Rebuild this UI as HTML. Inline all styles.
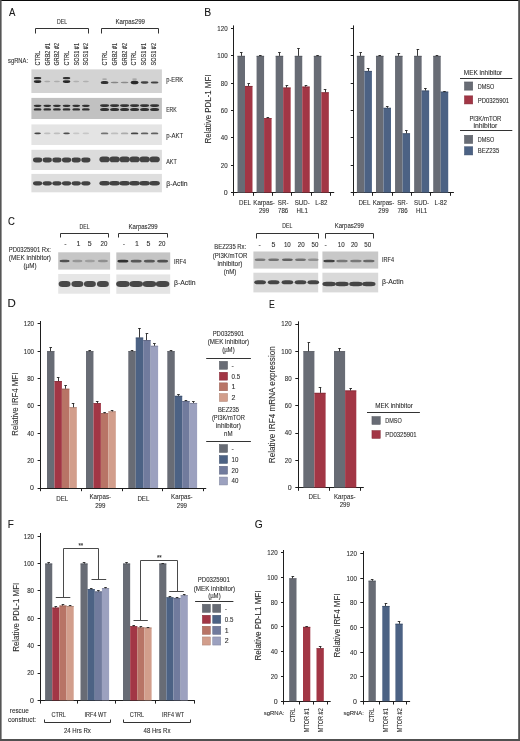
<!DOCTYPE html>
<html><head><meta charset="utf-8"><title>Figure</title>
<style>
html,body{margin:0;padding:0;background:#fff;}
svg{display:block;will-change:transform;}
text{font-family:"Liberation Sans", sans-serif;stroke:#2e2e2e;stroke-width:0.1px;}
</style></head>
<body>
<svg width="520" height="741" viewBox="0 0 520 741" font-family='"Liberation Sans", sans-serif' fill="#2e2e2e">
<defs><filter id="bl" x="-30%" y="-60%" width="160%" height="220%"><feGaussianBlur stdDeviation="0.65"/></filter></defs>
<rect x="0" y="0" width="520" height="741" fill="#fff"/>
<text x="9.11" y="16.15" font-size="11.3" textLength="6.38" lengthAdjust="spacingAndGlyphs" fill="#111" style="stroke-width:0.1px">A</text>
<text x="204.28" y="16.15" font-size="11.3" textLength="6.93" lengthAdjust="spacingAndGlyphs" fill="#111" style="stroke-width:0.1px">B</text>
<text x="7.98" y="225.4" font-size="11.3" textLength="6.84" lengthAdjust="spacingAndGlyphs" fill="#111" style="stroke-width:0.1px">C</text>
<text x="7.49" y="307.35" font-size="11.3" textLength="8.3" lengthAdjust="spacingAndGlyphs" fill="#111" style="stroke-width:0.1px">D</text>
<text x="269.03" y="307.55" font-size="11.3" textLength="5.79" lengthAdjust="spacingAndGlyphs" fill="#111" style="stroke-width:0.1px">E</text>
<text x="7.63" y="527.75" font-size="11.3" textLength="6.01" lengthAdjust="spacingAndGlyphs" fill="#111" style="stroke-width:0.1px">F</text>
<text x="254.74" y="527.9" font-size="11.3" textLength="7.97" lengthAdjust="spacingAndGlyphs" fill="#111" style="stroke-width:0.1px">G</text>
<text x="62" y="23.8" font-size="7" text-anchor="middle" textLength="10" lengthAdjust="spacingAndGlyphs">DEL</text>
<text x="130.2" y="23.8" font-size="7" text-anchor="middle" textLength="29.5" lengthAdjust="spacingAndGlyphs">Karpas299</text>
<path d="M 35.5 33.5 V 28.5 H 88.5 V 33.5" stroke="#333" stroke-width="1" fill="none"/>
<path d="M 101.5 33.5 V 28.5 H 158.5 V 33.5" stroke="#333" stroke-width="1" fill="none"/>
<text x="8" y="63" font-size="7" textLength="20" lengthAdjust="spacingAndGlyphs">sgRNA:</text>
<text x="40" y="65.5" font-size="6.8" textLength="14.5" lengthAdjust="spacingAndGlyphs" transform="rotate(-90 40 65.5)" style="stroke-width:0.12px">CTRL</text>
<text x="49.65" y="65.5" font-size="6.8" textLength="22.5" lengthAdjust="spacingAndGlyphs" transform="rotate(-90 49.65 65.5)" style="stroke-width:0.12px">GRB2 #1</text>
<text x="59.3" y="65.5" font-size="6.8" textLength="22.5" lengthAdjust="spacingAndGlyphs" transform="rotate(-90 59.3 65.5)" style="stroke-width:0.12px">GRB2 #2</text>
<text x="68.95" y="65.5" font-size="6.8" textLength="14.5" lengthAdjust="spacingAndGlyphs" transform="rotate(-90 68.95 65.5)" style="stroke-width:0.12px">CTRL</text>
<text x="78.6" y="65.5" font-size="6.8" textLength="22.5" lengthAdjust="spacingAndGlyphs" transform="rotate(-90 78.6 65.5)" style="stroke-width:0.12px">SOS1 #1</text>
<text x="88.25" y="65.5" font-size="6.8" textLength="22.5" lengthAdjust="spacingAndGlyphs" transform="rotate(-90 88.25 65.5)" style="stroke-width:0.12px">SOS1 #2</text>
<text x="107.3" y="65.5" font-size="6.8" textLength="14.5" lengthAdjust="spacingAndGlyphs" transform="rotate(-90 107.3 65.5)" style="stroke-width:0.12px">CTRL</text>
<text x="117" y="65.5" font-size="6.8" textLength="22.5" lengthAdjust="spacingAndGlyphs" transform="rotate(-90 117 65.5)" style="stroke-width:0.12px">GRB2 #1</text>
<text x="126.7" y="65.5" font-size="6.8" textLength="22.5" lengthAdjust="spacingAndGlyphs" transform="rotate(-90 126.7 65.5)" style="stroke-width:0.12px">GRB2 #2</text>
<text x="136.4" y="65.5" font-size="6.8" textLength="14.5" lengthAdjust="spacingAndGlyphs" transform="rotate(-90 136.4 65.5)" style="stroke-width:0.12px">CTRL</text>
<text x="146.1" y="65.5" font-size="6.8" textLength="22.5" lengthAdjust="spacingAndGlyphs" transform="rotate(-90 146.1 65.5)" style="stroke-width:0.12px">SOS1 #1</text>
<text x="155.8" y="65.5" font-size="6.8" textLength="22.5" lengthAdjust="spacingAndGlyphs" transform="rotate(-90 155.8 65.5)" style="stroke-width:0.12px">SOS1 #2</text>
<rect x="31.4" y="69.4" width="130.5" height="23.6" fill="#d3d3d3"/>
<rect x="31.4" y="97.9" width="130.5" height="21.1" fill="#c1c1c1"/>
<rect x="31.4" y="124.4" width="130.5" height="20.6" fill="#e4e4e4"/>
<rect x="31.4" y="149.8" width="130.5" height="20.2" fill="#dcdcdc"/>
<rect x="31.4" y="173.9" width="130.5" height="18.4" fill="#dedede"/>
<text x="166.2" y="82.1" font-size="7" textLength="17" lengthAdjust="spacingAndGlyphs">p-ERK</text>
<text x="166.2" y="112" font-size="7" textLength="10.5" lengthAdjust="spacingAndGlyphs">ERK</text>
<text x="166.2" y="138" font-size="7" textLength="17" lengthAdjust="spacingAndGlyphs">p-AKT</text>
<text x="166.2" y="163.7" font-size="7" textLength="10.5" lengthAdjust="spacingAndGlyphs">AKT</text>
<text x="166.2" y="185.6" font-size="7" textLength="21.5" lengthAdjust="spacingAndGlyphs">β-Actin</text>
<rect x="33.8" y="76.9" width="7.6" height="2.4" rx="2.43" ry="1.2" fill="#2b2b2b" filter="url(#bl)" opacity="0.95"/>
<rect x="33.8" y="80.3" width="7.6" height="2.6" rx="2.43" ry="1.3" fill="#2b2b2b" filter="url(#bl)"/>
<rect x="44.25" y="80.8" width="6" height="1.4" rx="1.92" ry="0.7" fill="#2b2b2b" filter="url(#bl)" opacity="0.25"/>
<rect x="53.9" y="80.8" width="6" height="1.4" rx="1.92" ry="0.7" fill="#2b2b2b" filter="url(#bl)" opacity="0.22"/>
<rect x="62.75" y="76.9" width="7.6" height="2.4" rx="2.43" ry="1.2" fill="#2b2b2b" filter="url(#bl)" opacity="0.95"/>
<rect x="62.75" y="80.3" width="7.6" height="2.6" rx="2.43" ry="1.3" fill="#2b2b2b" filter="url(#bl)"/>
<rect x="73.2" y="80.8" width="6" height="1.4" rx="1.92" ry="0.7" fill="#2b2b2b" filter="url(#bl)" opacity="0.2"/>
<rect x="82.85" y="80.8" width="6" height="1.4" rx="1.92" ry="0.7" fill="#2b2b2b" filter="url(#bl)" opacity="0.2"/>
<rect x="100.7" y="81" width="7.8" height="3" rx="2.5" ry="1.5" fill="#2b2b2b" filter="url(#bl)" opacity="0.95"/>
<rect x="102.1" y="78.5" width="5" height="1.2" rx="1.6" ry="0.6" fill="#2b2b2b" filter="url(#bl)" opacity="0.35"/>
<rect x="110.7" y="81.8" width="7.8" height="1.4" rx="2.5" ry="0.7" fill="#2b2b2b" filter="url(#bl)" opacity="0.45"/>
<rect x="120.7" y="81.8" width="7.8" height="1.4" rx="2.5" ry="0.7" fill="#2b2b2b" filter="url(#bl)" opacity="0.42"/>
<rect x="130.7" y="80.8" width="7.8" height="3.4" rx="2.5" ry="1.7" fill="#2b2b2b" filter="url(#bl)"/>
<rect x="132.1" y="78.5" width="5" height="1.2" rx="1.6" ry="0.6" fill="#2b2b2b" filter="url(#bl)" opacity="0.35"/>
<rect x="140.7" y="81.35" width="7.8" height="2.3" rx="2.5" ry="1.15" fill="#2b2b2b" filter="url(#bl)" opacity="0.85"/>
<rect x="150.7" y="81.4" width="7.8" height="2.2" rx="2.5" ry="1.1" fill="#2b2b2b" filter="url(#bl)" opacity="0.85"/>
<rect x="33.7" y="104.65" width="7.8" height="2.3" rx="2.5" ry="1.15" fill="#2b2b2b" filter="url(#bl)" opacity="0.95"/>
<rect x="33.7" y="108.2" width="7.8" height="2.4" rx="2.5" ry="1.2" fill="#2b2b2b" filter="url(#bl)" opacity="0.95"/>
<rect x="43.35" y="104.65" width="7.8" height="2.3" rx="2.5" ry="1.15" fill="#2b2b2b" filter="url(#bl)" opacity="0.95"/>
<rect x="43.35" y="108.2" width="7.8" height="2.4" rx="2.5" ry="1.2" fill="#2b2b2b" filter="url(#bl)" opacity="0.95"/>
<rect x="53" y="104.65" width="7.8" height="2.3" rx="2.5" ry="1.15" fill="#2b2b2b" filter="url(#bl)" opacity="0.95"/>
<rect x="53" y="108.2" width="7.8" height="2.4" rx="2.5" ry="1.2" fill="#2b2b2b" filter="url(#bl)" opacity="0.95"/>
<rect x="62.65" y="104.65" width="7.8" height="2.3" rx="2.5" ry="1.15" fill="#2b2b2b" filter="url(#bl)" opacity="0.95"/>
<rect x="62.65" y="108.2" width="7.8" height="2.4" rx="2.5" ry="1.2" fill="#2b2b2b" filter="url(#bl)" opacity="0.95"/>
<rect x="72.3" y="104.65" width="7.8" height="2.3" rx="2.5" ry="1.15" fill="#2b2b2b" filter="url(#bl)" opacity="0.95"/>
<rect x="72.3" y="108.2" width="7.8" height="2.4" rx="2.5" ry="1.2" fill="#2b2b2b" filter="url(#bl)" opacity="0.95"/>
<rect x="81.95" y="104.65" width="7.8" height="2.3" rx="2.5" ry="1.15" fill="#2b2b2b" filter="url(#bl)" opacity="0.95"/>
<rect x="81.95" y="108.2" width="7.8" height="2.4" rx="2.5" ry="1.2" fill="#2b2b2b" filter="url(#bl)" opacity="0.95"/>
<rect x="100" y="104.2" width="9.2" height="2.8" rx="2.94" ry="1.4" fill="#2b2b2b" filter="url(#bl)" opacity="0.95"/>
<rect x="100" y="108.1" width="9.2" height="3" rx="2.94" ry="1.5" fill="#2b2b2b" filter="url(#bl)" opacity="0.95"/>
<rect x="110" y="104.2" width="9.2" height="2.8" rx="2.94" ry="1.4" fill="#2b2b2b" filter="url(#bl)" opacity="0.95"/>
<rect x="110" y="108.1" width="9.2" height="3" rx="2.94" ry="1.5" fill="#2b2b2b" filter="url(#bl)" opacity="0.95"/>
<rect x="120" y="104.2" width="9.2" height="2.8" rx="2.94" ry="1.4" fill="#2b2b2b" filter="url(#bl)" opacity="0.95"/>
<rect x="120" y="108.1" width="9.2" height="3" rx="2.94" ry="1.5" fill="#2b2b2b" filter="url(#bl)" opacity="0.95"/>
<rect x="130" y="104.2" width="9.2" height="2.8" rx="2.94" ry="1.4" fill="#2b2b2b" filter="url(#bl)" opacity="0.95"/>
<rect x="130" y="108.1" width="9.2" height="3" rx="2.94" ry="1.5" fill="#2b2b2b" filter="url(#bl)" opacity="0.95"/>
<rect x="140" y="104.2" width="9.2" height="2.8" rx="2.94" ry="1.4" fill="#2b2b2b" filter="url(#bl)" opacity="0.95"/>
<rect x="140" y="108.1" width="9.2" height="3" rx="2.94" ry="1.5" fill="#2b2b2b" filter="url(#bl)" opacity="0.95"/>
<rect x="150" y="104.2" width="9.2" height="2.8" rx="2.94" ry="1.4" fill="#2b2b2b" filter="url(#bl)" opacity="0.95"/>
<rect x="150" y="108.1" width="9.2" height="3" rx="2.94" ry="1.5" fill="#2b2b2b" filter="url(#bl)" opacity="0.95"/>
<rect x="34.3" y="132.6" width="6.6" height="1.6" rx="2.11" ry="0.8" fill="#2b2b2b" filter="url(#bl)" opacity="0.85"/>
<rect x="43.95" y="132.6" width="6.6" height="1.6" rx="2.11" ry="0.8" fill="#2b2b2b" filter="url(#bl)" opacity="0.2"/>
<rect x="53.6" y="132.6" width="6.6" height="1.6" rx="2.11" ry="0.8" fill="#2b2b2b" filter="url(#bl)" opacity="0.2"/>
<rect x="63.25" y="132.6" width="6.6" height="1.6" rx="2.11" ry="0.8" fill="#2b2b2b" filter="url(#bl)" opacity="0.8"/>
<rect x="72.9" y="132.6" width="6.6" height="1.6" rx="2.11" ry="0.8" fill="#2b2b2b" filter="url(#bl)" opacity="0.15"/>
<rect x="82.55" y="132.6" width="6.6" height="1.6" rx="2.11" ry="0.8" fill="#2b2b2b" filter="url(#bl)" opacity="0.15"/>
<rect x="100.8" y="132.5" width="7.6" height="1.8" rx="2.43" ry="0.9" fill="#2b2b2b" filter="url(#bl)" opacity="0.6"/>
<rect x="110.8" y="132.5" width="7.6" height="1.8" rx="2.43" ry="0.9" fill="#2b2b2b" filter="url(#bl)" opacity="0.2"/>
<rect x="120.8" y="132.5" width="7.6" height="1.8" rx="2.43" ry="0.9" fill="#2b2b2b" filter="url(#bl)" opacity="0.3"/>
<rect x="130.8" y="132.5" width="7.6" height="1.8" rx="2.43" ry="0.9" fill="#2b2b2b" filter="url(#bl)" opacity="0.85"/>
<rect x="140.8" y="132.5" width="7.6" height="1.8" rx="2.43" ry="0.9" fill="#2b2b2b" filter="url(#bl)" opacity="0.7"/>
<rect x="150.8" y="132.5" width="7.6" height="1.8" rx="2.43" ry="0.9" fill="#2b2b2b" filter="url(#bl)" opacity="0.7"/>
<rect x="33" y="157.6" width="9.2" height="4.8" rx="2.94" ry="2.4" fill="#434343" filter="url(#bl)"/>
<rect x="42.65" y="157.6" width="9.2" height="4.8" rx="2.94" ry="2.4" fill="#434343" filter="url(#bl)"/>
<rect x="52.3" y="157.6" width="9.2" height="4.8" rx="2.94" ry="2.4" fill="#434343" filter="url(#bl)"/>
<rect x="61.95" y="157.6" width="9.2" height="4.8" rx="2.94" ry="2.4" fill="#434343" filter="url(#bl)"/>
<rect x="71.6" y="157.6" width="9.2" height="4.8" rx="2.94" ry="2.4" fill="#434343" filter="url(#bl)"/>
<rect x="81.25" y="157.6" width="9.2" height="4.8" rx="2.94" ry="2.4" fill="#434343" filter="url(#bl)"/>
<rect x="99.4" y="156.6" width="10.4" height="5.6" rx="3.33" ry="2.8" fill="#434343" filter="url(#bl)"/>
<rect x="109.4" y="156.6" width="10.4" height="5.6" rx="3.33" ry="2.8" fill="#434343" filter="url(#bl)"/>
<rect x="119.4" y="156.6" width="10.4" height="5.6" rx="3.33" ry="2.8" fill="#434343" filter="url(#bl)"/>
<rect x="129.4" y="156.6" width="10.4" height="5.6" rx="3.33" ry="2.8" fill="#434343" filter="url(#bl)"/>
<rect x="139.4" y="156.6" width="10.4" height="5.6" rx="3.33" ry="2.8" fill="#434343" filter="url(#bl)"/>
<rect x="149.4" y="156.6" width="10.4" height="5.6" rx="3.33" ry="2.8" fill="#434343" filter="url(#bl)"/>
<rect x="33" y="181.2" width="9.2" height="4.2" rx="2.94" ry="2.1" fill="#434343" filter="url(#bl)"/>
<rect x="42.65" y="181.2" width="9.2" height="4.2" rx="2.94" ry="2.1" fill="#434343" filter="url(#bl)"/>
<rect x="52.3" y="181.2" width="9.2" height="4.2" rx="2.94" ry="2.1" fill="#434343" filter="url(#bl)"/>
<rect x="61.95" y="181.2" width="9.2" height="4.2" rx="2.94" ry="2.1" fill="#434343" filter="url(#bl)"/>
<rect x="71.6" y="181.2" width="9.2" height="4.2" rx="2.94" ry="2.1" fill="#434343" filter="url(#bl)"/>
<rect x="81.25" y="181.2" width="9.2" height="4.2" rx="2.94" ry="2.1" fill="#434343" filter="url(#bl)"/>
<rect x="99.4" y="181.1" width="10.4" height="4.4" rx="3.33" ry="2.2" fill="#434343" filter="url(#bl)"/>
<rect x="109.4" y="181.1" width="10.4" height="4.4" rx="3.33" ry="2.2" fill="#434343" filter="url(#bl)"/>
<rect x="119.4" y="181.1" width="10.4" height="4.4" rx="3.33" ry="2.2" fill="#434343" filter="url(#bl)"/>
<rect x="129.4" y="181.1" width="10.4" height="4.4" rx="3.33" ry="2.2" fill="#434343" filter="url(#bl)"/>
<rect x="139.4" y="181.1" width="10.4" height="4.4" rx="3.33" ry="2.2" fill="#434343" filter="url(#bl)"/>
<rect x="149.4" y="181.1" width="10.4" height="4.4" rx="3.33" ry="2.2" fill="#434343" filter="url(#bl)"/>
<line x1="233.5" y1="25.4" x2="233.5" y2="193.1" stroke="#1e1e1e" stroke-width="1"/>
<line x1="231" y1="192.5" x2="233.8" y2="192.5" stroke="#1e1e1e" stroke-width="1"/>
<text x="227.6" y="195" font-size="7" text-anchor="end">0</text>
<line x1="231" y1="165.5" x2="233.8" y2="165.5" stroke="#1e1e1e" stroke-width="1"/>
<text x="227.6" y="167.66" font-size="7" text-anchor="end" textLength="6.85" lengthAdjust="spacingAndGlyphs">20</text>
<line x1="231" y1="137.5" x2="233.8" y2="137.5" stroke="#1e1e1e" stroke-width="1"/>
<text x="227.6" y="140.32" font-size="7" text-anchor="end" textLength="6.85" lengthAdjust="spacingAndGlyphs">40</text>
<line x1="231" y1="110.5" x2="233.8" y2="110.5" stroke="#1e1e1e" stroke-width="1"/>
<text x="227.6" y="112.98" font-size="7" text-anchor="end" textLength="6.85" lengthAdjust="spacingAndGlyphs">60</text>
<line x1="231" y1="83.5" x2="233.8" y2="83.5" stroke="#1e1e1e" stroke-width="1"/>
<text x="227.6" y="85.64" font-size="7" text-anchor="end" textLength="6.85" lengthAdjust="spacingAndGlyphs">80</text>
<line x1="231" y1="55.5" x2="233.8" y2="55.5" stroke="#1e1e1e" stroke-width="1"/>
<text x="227.6" y="58.3" font-size="7" text-anchor="end" textLength="10.28" lengthAdjust="spacingAndGlyphs">100</text>
<line x1="231" y1="28.5" x2="233.8" y2="28.5" stroke="#1e1e1e" stroke-width="1"/>
<text x="227.6" y="30.96" font-size="7" text-anchor="end" textLength="10.28" lengthAdjust="spacingAndGlyphs">120</text>
<line x1="233.3" y1="192.5" x2="334.2" y2="192.5" stroke="#1e1e1e" stroke-width="1.1"/>
<line x1="233.5" y1="192.6" x2="233.5" y2="195.8" stroke="#1e1e1e" stroke-width="1"/>
<line x1="253.5" y1="192.6" x2="253.5" y2="195.8" stroke="#1e1e1e" stroke-width="1"/>
<line x1="272.5" y1="192.6" x2="272.5" y2="195.8" stroke="#1e1e1e" stroke-width="1"/>
<line x1="291.5" y1="192.6" x2="291.5" y2="195.8" stroke="#1e1e1e" stroke-width="1"/>
<line x1="311.5" y1="192.6" x2="311.5" y2="195.8" stroke="#1e1e1e" stroke-width="1"/>
<line x1="330.5" y1="192.6" x2="330.5" y2="195.8" stroke="#1e1e1e" stroke-width="1"/>
<rect x="237.5" y="55.9" width="7.5" height="136.7" fill="#686c75"/>
<rect x="237.5" y="55.9" width="7.5" height="0.7" fill="#51545b"/>
<line x1="241.5" y1="55.9" x2="241.5" y2="52.62" stroke="#222" stroke-width="0.9"/>
<line x1="239.95" y1="52.5" x2="242.55" y2="52.5" stroke="#222" stroke-width="0.9"/>
<rect x="245" y="85.97" width="7.5" height="106.63" fill="#a23645"/>
<rect x="245" y="85.97" width="7.5" height="0.7" fill="#7e2a35"/>
<line x1="248.5" y1="85.97" x2="248.5" y2="83.92" stroke="#222" stroke-width="0.9"/>
<line x1="247.45" y1="83.5" x2="250.05" y2="83.5" stroke="#222" stroke-width="0.9"/>
<text x="245" y="205" font-size="7" text-anchor="middle" textLength="11.98" lengthAdjust="spacingAndGlyphs">DEL</text>
<rect x="256.58" y="55.9" width="7.5" height="136.7" fill="#686c75"/>
<rect x="256.58" y="55.9" width="7.5" height="0.7" fill="#51545b"/>
<line x1="260.5" y1="55.9" x2="260.5" y2="55.35" stroke="#222" stroke-width="0.9"/>
<line x1="259.03" y1="55.5" x2="261.63" y2="55.5" stroke="#222" stroke-width="0.9"/>
<rect x="264.08" y="118.1" width="7.5" height="74.5" fill="#a23645"/>
<rect x="264.08" y="118.1" width="7.5" height="0.7" fill="#7e2a35"/>
<line x1="267.5" y1="118.1" x2="267.5" y2="117.42" stroke="#222" stroke-width="0.9"/>
<line x1="266.53" y1="117.5" x2="269.13" y2="117.5" stroke="#222" stroke-width="0.9"/>
<text x="264.08" y="205" font-size="7" text-anchor="middle" textLength="21.57" lengthAdjust="spacingAndGlyphs">Karpas-</text>
<text x="264.08" y="213.2" font-size="7" text-anchor="middle" textLength="10.28" lengthAdjust="spacingAndGlyphs">299</text>
<rect x="275.66" y="55.9" width="7.5" height="136.7" fill="#686c75"/>
<rect x="275.66" y="55.9" width="7.5" height="0.7" fill="#51545b"/>
<line x1="279.5" y1="55.9" x2="279.5" y2="52.62" stroke="#222" stroke-width="0.9"/>
<line x1="278.11" y1="52.5" x2="280.71" y2="52.5" stroke="#222" stroke-width="0.9"/>
<rect x="283.16" y="87.61" width="7.5" height="104.99" fill="#a23645"/>
<rect x="283.16" y="87.61" width="7.5" height="0.7" fill="#7e2a35"/>
<line x1="286.5" y1="87.61" x2="286.5" y2="85.7" stroke="#222" stroke-width="0.9"/>
<line x1="285.61" y1="85.5" x2="288.21" y2="85.5" stroke="#222" stroke-width="0.9"/>
<text x="283.16" y="205" font-size="7" text-anchor="middle" textLength="10.61" lengthAdjust="spacingAndGlyphs">SR-</text>
<text x="283.16" y="213.2" font-size="7" text-anchor="middle" textLength="10.28" lengthAdjust="spacingAndGlyphs">786</text>
<rect x="294.74" y="55.9" width="7.5" height="136.7" fill="#686c75"/>
<rect x="294.74" y="55.9" width="7.5" height="0.7" fill="#51545b"/>
<line x1="298.5" y1="55.9" x2="298.5" y2="48.38" stroke="#222" stroke-width="0.9"/>
<line x1="297.19" y1="48.5" x2="299.79" y2="48.5" stroke="#222" stroke-width="0.9"/>
<rect x="302.24" y="86.66" width="7.5" height="105.94" fill="#a23645"/>
<rect x="302.24" y="86.66" width="7.5" height="0.7" fill="#7e2a35"/>
<line x1="305.5" y1="86.66" x2="305.5" y2="85.84" stroke="#222" stroke-width="0.9"/>
<line x1="304.69" y1="85.5" x2="307.29" y2="85.5" stroke="#222" stroke-width="0.9"/>
<text x="302.24" y="205" font-size="7" text-anchor="middle" textLength="15.06" lengthAdjust="spacingAndGlyphs">SUD-</text>
<text x="302.24" y="213.2" font-size="7" text-anchor="middle" textLength="11.3" lengthAdjust="spacingAndGlyphs">HL1</text>
<rect x="313.82" y="55.9" width="7.5" height="136.7" fill="#686c75"/>
<rect x="313.82" y="55.9" width="7.5" height="0.7" fill="#51545b"/>
<line x1="317.5" y1="55.9" x2="317.5" y2="55.35" stroke="#222" stroke-width="0.9"/>
<line x1="316.27" y1="55.5" x2="318.87" y2="55.5" stroke="#222" stroke-width="0.9"/>
<rect x="321.32" y="92.4" width="7.5" height="100.2" fill="#a23645"/>
<rect x="321.32" y="92.4" width="7.5" height="0.7" fill="#7e2a35"/>
<line x1="325.5" y1="92.4" x2="325.5" y2="89.66" stroke="#222" stroke-width="0.9"/>
<line x1="323.77" y1="89.5" x2="326.37" y2="89.5" stroke="#222" stroke-width="0.9"/>
<text x="321.32" y="205" font-size="7" text-anchor="middle" textLength="12.33" lengthAdjust="spacingAndGlyphs">L-82</text>
<line x1="353.5" y1="25.4" x2="353.5" y2="193.1" stroke="#1e1e1e" stroke-width="1"/>
<line x1="350.7" y1="192.5" x2="353.5" y2="192.5" stroke="#1e1e1e" stroke-width="1"/>
<line x1="350.7" y1="165.5" x2="353.5" y2="165.5" stroke="#1e1e1e" stroke-width="1"/>
<line x1="350.7" y1="137.5" x2="353.5" y2="137.5" stroke="#1e1e1e" stroke-width="1"/>
<line x1="350.7" y1="110.5" x2="353.5" y2="110.5" stroke="#1e1e1e" stroke-width="1"/>
<line x1="350.7" y1="83.5" x2="353.5" y2="83.5" stroke="#1e1e1e" stroke-width="1"/>
<line x1="350.7" y1="55.5" x2="353.5" y2="55.5" stroke="#1e1e1e" stroke-width="1"/>
<line x1="350.7" y1="28.5" x2="353.5" y2="28.5" stroke="#1e1e1e" stroke-width="1"/>
<line x1="353" y1="192.5" x2="453.9" y2="192.5" stroke="#1e1e1e" stroke-width="1.1"/>
<line x1="353.5" y1="192.6" x2="353.5" y2="195.8" stroke="#1e1e1e" stroke-width="1"/>
<line x1="372.5" y1="192.6" x2="372.5" y2="195.8" stroke="#1e1e1e" stroke-width="1"/>
<line x1="392.5" y1="192.6" x2="392.5" y2="195.8" stroke="#1e1e1e" stroke-width="1"/>
<line x1="411.5" y1="192.6" x2="411.5" y2="195.8" stroke="#1e1e1e" stroke-width="1"/>
<line x1="430.5" y1="192.6" x2="430.5" y2="195.8" stroke="#1e1e1e" stroke-width="1"/>
<line x1="450.5" y1="192.6" x2="450.5" y2="195.8" stroke="#1e1e1e" stroke-width="1"/>
<rect x="356.9" y="55.9" width="7.5" height="136.7" fill="#686c75"/>
<rect x="356.9" y="55.9" width="7.5" height="0.7" fill="#51545b"/>
<line x1="360.5" y1="55.9" x2="360.5" y2="52.89" stroke="#222" stroke-width="0.9"/>
<line x1="359.35" y1="52.5" x2="361.95" y2="52.5" stroke="#222" stroke-width="0.9"/>
<rect x="364.4" y="70.94" width="7.5" height="121.66" fill="#4c6284"/>
<rect x="364.4" y="70.94" width="7.5" height="0.7" fill="#3b4c66"/>
<line x1="368.5" y1="70.94" x2="368.5" y2="68.61" stroke="#222" stroke-width="0.9"/>
<line x1="366.85" y1="68.5" x2="369.45" y2="68.5" stroke="#222" stroke-width="0.9"/>
<text x="364.4" y="205" font-size="7" text-anchor="middle" textLength="11.98" lengthAdjust="spacingAndGlyphs">DEL</text>
<rect x="375.98" y="55.9" width="7.5" height="136.7" fill="#686c75"/>
<rect x="375.98" y="55.9" width="7.5" height="0.7" fill="#51545b"/>
<line x1="379.5" y1="55.9" x2="379.5" y2="55.35" stroke="#222" stroke-width="0.9"/>
<line x1="378.43" y1="55.5" x2="381.03" y2="55.5" stroke="#222" stroke-width="0.9"/>
<rect x="383.48" y="107.85" width="7.5" height="84.75" fill="#4c6284"/>
<rect x="383.48" y="107.85" width="7.5" height="0.7" fill="#3b4c66"/>
<line x1="387.5" y1="107.85" x2="387.5" y2="106.48" stroke="#222" stroke-width="0.9"/>
<line x1="385.93" y1="106.5" x2="388.53" y2="106.5" stroke="#222" stroke-width="0.9"/>
<text x="383.48" y="205" font-size="7" text-anchor="middle" textLength="21.57" lengthAdjust="spacingAndGlyphs">Karpas-</text>
<text x="383.48" y="213.2" font-size="7" text-anchor="middle" textLength="10.28" lengthAdjust="spacingAndGlyphs">299</text>
<rect x="395.06" y="55.9" width="7.5" height="136.7" fill="#686c75"/>
<rect x="395.06" y="55.9" width="7.5" height="0.7" fill="#51545b"/>
<line x1="398.5" y1="55.9" x2="398.5" y2="53.17" stroke="#222" stroke-width="0.9"/>
<line x1="397.51" y1="53.5" x2="400.11" y2="53.5" stroke="#222" stroke-width="0.9"/>
<rect x="402.56" y="133.41" width="7.5" height="59.19" fill="#4c6284"/>
<rect x="402.56" y="133.41" width="7.5" height="0.7" fill="#3b4c66"/>
<line x1="406.5" y1="133.41" x2="406.5" y2="130.54" stroke="#222" stroke-width="0.9"/>
<line x1="405.01" y1="130.5" x2="407.61" y2="130.5" stroke="#222" stroke-width="0.9"/>
<text x="402.56" y="205" font-size="7" text-anchor="middle" textLength="10.61" lengthAdjust="spacingAndGlyphs">SR-</text>
<text x="402.56" y="213.2" font-size="7" text-anchor="middle" textLength="10.28" lengthAdjust="spacingAndGlyphs">786</text>
<rect x="414.14" y="55.9" width="7.5" height="136.7" fill="#686c75"/>
<rect x="414.14" y="55.9" width="7.5" height="0.7" fill="#51545b"/>
<line x1="417.5" y1="55.9" x2="417.5" y2="49.07" stroke="#222" stroke-width="0.9"/>
<line x1="416.59" y1="49.5" x2="419.19" y2="49.5" stroke="#222" stroke-width="0.9"/>
<rect x="421.64" y="90.62" width="7.5" height="101.98" fill="#4c6284"/>
<rect x="421.64" y="90.62" width="7.5" height="0.7" fill="#3b4c66"/>
<line x1="425.5" y1="90.62" x2="425.5" y2="88.3" stroke="#222" stroke-width="0.9"/>
<line x1="424.09" y1="88.5" x2="426.69" y2="88.5" stroke="#222" stroke-width="0.9"/>
<text x="421.64" y="205" font-size="7" text-anchor="middle" textLength="15.06" lengthAdjust="spacingAndGlyphs">SUD-</text>
<text x="421.64" y="213.2" font-size="7" text-anchor="middle" textLength="11.3" lengthAdjust="spacingAndGlyphs">HL1</text>
<rect x="433.22" y="55.9" width="7.5" height="136.7" fill="#686c75"/>
<rect x="433.22" y="55.9" width="7.5" height="0.7" fill="#51545b"/>
<line x1="436.5" y1="55.9" x2="436.5" y2="55.35" stroke="#222" stroke-width="0.9"/>
<line x1="435.67" y1="55.5" x2="438.27" y2="55.5" stroke="#222" stroke-width="0.9"/>
<rect x="440.72" y="91.72" width="7.5" height="100.88" fill="#4c6284"/>
<rect x="440.72" y="91.72" width="7.5" height="0.7" fill="#3b4c66"/>
<line x1="444.5" y1="91.72" x2="444.5" y2="91.17" stroke="#222" stroke-width="0.9"/>
<line x1="443.17" y1="91.5" x2="445.77" y2="91.5" stroke="#222" stroke-width="0.9"/>
<text x="440.72" y="205" font-size="7" text-anchor="middle" textLength="12.33" lengthAdjust="spacingAndGlyphs">L-82</text>
<text x="211.2" y="109" font-size="9" text-anchor="middle" textLength="69" lengthAdjust="spacingAndGlyphs" transform="rotate(-90 211.2 109)">Relative PDL-1 MFI</text>
<text x="483" y="75.4" font-size="7" text-anchor="middle" textLength="38.5" lengthAdjust="spacingAndGlyphs">MEK inhibitor</text>
<line x1="460" y1="78.5" x2="512.3" y2="78.5" stroke="#333" stroke-width="1"/>
<rect x="464.45" y="81.95" width="8.3" height="8.2" fill="#686c75" stroke="#55585f" stroke-width="0.5"/>
<text x="477.7" y="88.6" font-size="7" textLength="16.5" lengthAdjust="spacingAndGlyphs">DMSO</text>
<rect x="464.45" y="95.85" width="8.3" height="8.1" fill="#a23645" stroke="#842c38" stroke-width="0.5"/>
<text x="477.7" y="102.5" font-size="7" textLength="31.5" lengthAdjust="spacingAndGlyphs">PD0325901</text>
<text x="485.4" y="120.6" font-size="7" text-anchor="middle" textLength="32" lengthAdjust="spacingAndGlyphs">PI3K/mTOR</text>
<text x="485.4" y="128.3" font-size="7" text-anchor="middle" textLength="24" lengthAdjust="spacingAndGlyphs">inhibitor</text>
<line x1="460" y1="130.5" x2="512.3" y2="130.5" stroke="#333" stroke-width="1"/>
<rect x="464.45" y="135.25" width="8.3" height="8.2" fill="#686c75" stroke="#55585f" stroke-width="0.5"/>
<text x="477.7" y="141.9" font-size="7" textLength="16.5" lengthAdjust="spacingAndGlyphs">DMSO</text>
<rect x="464.45" y="146.75" width="8.3" height="8.2" fill="#4c6284" stroke="#3e506c" stroke-width="0.5"/>
<text x="477.7" y="153.3" font-size="7" textLength="21.5" lengthAdjust="spacingAndGlyphs">BEZ235</text>
<text x="8.8" y="251.6" font-size="7" textLength="42" lengthAdjust="spacingAndGlyphs">PD0325901 Rx:</text>
<text x="8.8" y="259.6" font-size="7" textLength="42.2" lengthAdjust="spacingAndGlyphs">(MEK inhibitor)</text>
<text x="30" y="268.4" font-size="7" text-anchor="middle" textLength="13" lengthAdjust="spacingAndGlyphs">(µM)</text>
<text x="84.5" y="228.5" font-size="7" text-anchor="middle" textLength="10" lengthAdjust="spacingAndGlyphs">DEL</text>
<path d="M 60.5 237.5 V 233.5 H 108.5 V 237.5" stroke="#333" stroke-width="1" fill="none"/>
<text x="143.1" y="228.8" font-size="7" text-anchor="middle" textLength="29.2" lengthAdjust="spacingAndGlyphs">Karpas299</text>
<path d="M 118.5 237.5 V 233.5 H 167.5 V 237.5" stroke="#333" stroke-width="1" fill="none"/>
<text x="65.4" y="246.3" font-size="7" text-anchor="middle">-</text>
<text x="78.5" y="246.3" font-size="7" text-anchor="middle">1</text>
<text x="89.6" y="246.3" font-size="7" text-anchor="middle">5</text>
<text x="103.9" y="246.3" font-size="7" text-anchor="middle" textLength="6.85" lengthAdjust="spacingAndGlyphs">20</text>
<text x="124" y="246.3" font-size="7" text-anchor="middle">-</text>
<text x="136.9" y="246.3" font-size="7" text-anchor="middle">1</text>
<text x="148.5" y="246.3" font-size="7" text-anchor="middle">5</text>
<text x="162" y="246.3" font-size="7" text-anchor="middle" textLength="6.85" lengthAdjust="spacingAndGlyphs">20</text>
<rect x="58.2" y="252.3" width="51.9" height="17.3" fill="#c6c6c6"/>
<rect x="58.2" y="274" width="51.9" height="19.7" fill="#e6e6e6"/>
<rect x="116.3" y="252.4" width="53.9" height="17.3" fill="#c4c4c4"/>
<rect x="116.3" y="274.4" width="53.9" height="19.4" fill="#e4e4e4"/>
<text x="174" y="264" font-size="7" textLength="12" lengthAdjust="spacingAndGlyphs">IRF4</text>
<text x="174" y="284.6" font-size="7" textLength="21.5" lengthAdjust="spacingAndGlyphs">β-Actin</text>
<rect x="59.6" y="259.8" width="10" height="2.4" rx="3.2" ry="1.2" fill="#2b2b2b" filter="url(#bl)" opacity="0.75"/>
<rect x="72.4" y="259.8" width="10" height="2.4" rx="3.2" ry="1.2" fill="#2b2b2b" filter="url(#bl)" opacity="0.3"/>
<rect x="84.9" y="259.8" width="10" height="2.4" rx="3.2" ry="1.2" fill="#2b2b2b" filter="url(#bl)" opacity="0.25"/>
<rect x="97.9" y="259.8" width="10" height="2.4" rx="3.2" ry="1.2" fill="#2b2b2b" filter="url(#bl)" opacity="0.35"/>
<rect x="58.6" y="281.1" width="12" height="5.8" rx="3.84" ry="2.9" fill="#4a4a4a" filter="url(#bl)"/>
<rect x="71.4" y="281.1" width="12" height="5.8" rx="3.84" ry="2.9" fill="#4a4a4a" filter="url(#bl)"/>
<rect x="83.9" y="281.1" width="12" height="5.8" rx="3.84" ry="2.9" fill="#4a4a4a" filter="url(#bl)"/>
<rect x="96.9" y="281.1" width="12" height="5.8" rx="3.84" ry="2.9" fill="#4a4a4a" filter="url(#bl)"/>
<rect x="117.4" y="259.8" width="11" height="2.8" rx="3.52" ry="1.4" fill="#2b2b2b" filter="url(#bl)" opacity="0.95"/>
<rect x="130.7" y="259.8" width="11" height="2.8" rx="3.52" ry="1.4" fill="#2b2b2b" filter="url(#bl)" opacity="0.7"/>
<rect x="143.9" y="259.8" width="11" height="2.8" rx="3.52" ry="1.4" fill="#2b2b2b" filter="url(#bl)" opacity="0.7"/>
<rect x="157.1" y="259.8" width="11" height="2.8" rx="3.52" ry="1.4" fill="#2b2b2b" filter="url(#bl)" opacity="0.75"/>
<rect x="116.1" y="281" width="13.6" height="6" rx="4.35" ry="3" fill="#474747" filter="url(#bl)"/>
<rect x="129.4" y="281" width="13.6" height="6" rx="4.35" ry="3" fill="#474747" filter="url(#bl)"/>
<rect x="142.6" y="281" width="13.6" height="6" rx="4.35" ry="3" fill="#474747" filter="url(#bl)"/>
<rect x="155.8" y="281" width="13.6" height="6" rx="4.35" ry="3" fill="#474747" filter="url(#bl)"/>
<text x="214.3" y="249.2" font-size="7" textLength="31.9" lengthAdjust="spacingAndGlyphs">BEZ235 Rx:</text>
<text x="212.7" y="258.4" font-size="7" textLength="34.6" lengthAdjust="spacingAndGlyphs">(PI3K/mTOR</text>
<text x="230" y="265.8" font-size="7" text-anchor="middle" textLength="25" lengthAdjust="spacingAndGlyphs">inhibitor)</text>
<text x="230" y="273.9" font-size="7" text-anchor="middle" textLength="12.5" lengthAdjust="spacingAndGlyphs">(nM)</text>
<text x="287.3" y="228.4" font-size="7" text-anchor="middle" textLength="10" lengthAdjust="spacingAndGlyphs">DEL</text>
<path d="M 256.5 238.5 V 233.5 H 318.5 V 238.5" stroke="#333" stroke-width="1" fill="none"/>
<text x="349.3" y="228.4" font-size="7" text-anchor="middle" textLength="29.2" lengthAdjust="spacingAndGlyphs">Karpas299</text>
<path d="M 325.5 238.5 V 233.5 H 373.5 V 238.5" stroke="#333" stroke-width="1" fill="none"/>
<text x="259.6" y="246.9" font-size="7" text-anchor="middle">-</text>
<text x="273.4" y="246.9" font-size="7" text-anchor="middle">5</text>
<text x="287.3" y="246.9" font-size="7" text-anchor="middle" textLength="6.85" lengthAdjust="spacingAndGlyphs">10</text>
<text x="301.2" y="246.9" font-size="7" text-anchor="middle" textLength="6.85" lengthAdjust="spacingAndGlyphs">20</text>
<text x="315" y="246.9" font-size="7" text-anchor="middle" textLength="6.85" lengthAdjust="spacingAndGlyphs">50</text>
<text x="325.7" y="246.9" font-size="7" text-anchor="middle">-</text>
<text x="341.2" y="246.9" font-size="7" text-anchor="middle" textLength="6.85" lengthAdjust="spacingAndGlyphs">10</text>
<text x="354.3" y="246.9" font-size="7" text-anchor="middle" textLength="6.85" lengthAdjust="spacingAndGlyphs">20</text>
<text x="367.7" y="246.9" font-size="7" text-anchor="middle" textLength="6.85" lengthAdjust="spacingAndGlyphs">50</text>
<rect x="253.4" y="251.5" width="64.8" height="17.1" fill="#cacaca"/>
<rect x="253.4" y="272.7" width="64.8" height="19.7" fill="#d9d9d9"/>
<rect x="322.4" y="251.5" width="55.8" height="17.1" fill="#c8c8c8"/>
<rect x="322.4" y="272.7" width="55.8" height="19.7" fill="#d9d9d9"/>
<text x="382" y="262.3" font-size="7" textLength="12" lengthAdjust="spacingAndGlyphs">IRF4</text>
<text x="382" y="283.8" font-size="7" textLength="21.5" lengthAdjust="spacingAndGlyphs">β-Actin</text>
<rect x="254.7" y="258.6" width="10.8" height="2.4" rx="3.46" ry="1.2" fill="#2b2b2b" filter="url(#bl)" opacity="0.5"/>
<rect x="268.2" y="258.6" width="10.8" height="2.4" rx="3.46" ry="1.2" fill="#2b2b2b" filter="url(#bl)" opacity="0.55"/>
<rect x="282" y="258.6" width="10.8" height="2.4" rx="3.46" ry="1.2" fill="#2b2b2b" filter="url(#bl)" opacity="0.65"/>
<rect x="295.1" y="258.6" width="10.8" height="2.4" rx="3.46" ry="1.2" fill="#2b2b2b" filter="url(#bl)" opacity="0.55"/>
<rect x="307.9" y="258.6" width="10.8" height="2.4" rx="3.46" ry="1.2" fill="#2b2b2b" filter="url(#bl)" opacity="0.35"/>
<rect x="254.3" y="280.3" width="11.6" height="4" rx="3.71" ry="2" fill="#444" filter="url(#bl)"/>
<rect x="267.8" y="280.3" width="11.6" height="4" rx="3.71" ry="2" fill="#444" filter="url(#bl)"/>
<rect x="281.6" y="280.3" width="11.6" height="4" rx="3.71" ry="2" fill="#444" filter="url(#bl)"/>
<rect x="294.7" y="280.3" width="11.6" height="4" rx="3.71" ry="2" fill="#444" filter="url(#bl)"/>
<rect x="307.5" y="280.3" width="11.6" height="4" rx="3.71" ry="2" fill="#444" filter="url(#bl)"/>
<rect x="323.35" y="259.7" width="11.5" height="2.6" rx="3.68" ry="1.3" fill="#2b2b2b" filter="url(#bl)" opacity="0.85"/>
<rect x="336.25" y="259.7" width="11.5" height="2.6" rx="3.68" ry="1.3" fill="#2b2b2b" filter="url(#bl)" opacity="0.5"/>
<rect x="350.15" y="259.7" width="11.5" height="2.6" rx="3.68" ry="1.3" fill="#2b2b2b" filter="url(#bl)" opacity="0.5"/>
<rect x="363.05" y="259.7" width="11.5" height="2.6" rx="3.68" ry="1.3" fill="#2b2b2b" filter="url(#bl)" opacity="0.6"/>
<rect x="322.4" y="281.8" width="13.4" height="4.4" rx="4.29" ry="2.2" fill="#444" filter="url(#bl)"/>
<rect x="335.3" y="281.8" width="13.4" height="4.4" rx="4.29" ry="2.2" fill="#444" filter="url(#bl)"/>
<rect x="349.2" y="281.8" width="13.4" height="4.4" rx="4.29" ry="2.2" fill="#444" filter="url(#bl)"/>
<rect x="362.1" y="281.8" width="13.4" height="4.4" rx="4.29" ry="2.2" fill="#444" filter="url(#bl)"/>
<line x1="40.5" y1="321" x2="40.5" y2="488.5" stroke="#1e1e1e" stroke-width="1"/>
<line x1="37.6" y1="488.5" x2="40.4" y2="488.5" stroke="#1e1e1e" stroke-width="1"/>
<text x="34" y="490.4" font-size="7" text-anchor="end">0</text>
<line x1="37.6" y1="460.5" x2="40.4" y2="460.5" stroke="#1e1e1e" stroke-width="1"/>
<text x="34" y="463.06" font-size="7" text-anchor="end" textLength="6.85" lengthAdjust="spacingAndGlyphs">20</text>
<line x1="37.6" y1="433.5" x2="40.4" y2="433.5" stroke="#1e1e1e" stroke-width="1"/>
<text x="34" y="435.72" font-size="7" text-anchor="end" textLength="6.85" lengthAdjust="spacingAndGlyphs">40</text>
<line x1="37.6" y1="405.5" x2="40.4" y2="405.5" stroke="#1e1e1e" stroke-width="1"/>
<text x="34" y="408.38" font-size="7" text-anchor="end" textLength="6.85" lengthAdjust="spacingAndGlyphs">60</text>
<line x1="37.6" y1="378.5" x2="40.4" y2="378.5" stroke="#1e1e1e" stroke-width="1"/>
<text x="34" y="381.04" font-size="7" text-anchor="end" textLength="6.85" lengthAdjust="spacingAndGlyphs">80</text>
<line x1="37.6" y1="351.5" x2="40.4" y2="351.5" stroke="#1e1e1e" stroke-width="1"/>
<text x="34" y="353.7" font-size="7" text-anchor="end" textLength="10.28" lengthAdjust="spacingAndGlyphs">100</text>
<line x1="37.6" y1="323.5" x2="40.4" y2="323.5" stroke="#1e1e1e" stroke-width="1"/>
<text x="34" y="326.36" font-size="7" text-anchor="end" textLength="10.28" lengthAdjust="spacingAndGlyphs">120</text>
<line x1="39.9" y1="488.5" x2="206.2" y2="488.5" stroke="#1e1e1e" stroke-width="1.1"/>
<line x1="40.5" y1="488" x2="40.5" y2="491.2" stroke="#1e1e1e" stroke-width="1"/>
<line x1="81.5" y1="488" x2="81.5" y2="491.2" stroke="#1e1e1e" stroke-width="1"/>
<line x1="122.5" y1="488" x2="122.5" y2="491.2" stroke="#1e1e1e" stroke-width="1"/>
<line x1="162.5" y1="488" x2="162.5" y2="491.2" stroke="#1e1e1e" stroke-width="1"/>
<line x1="203.5" y1="488" x2="203.5" y2="491.2" stroke="#1e1e1e" stroke-width="1"/>
<rect x="47" y="351.3" width="7.45" height="136.7" fill="#686c75"/>
<rect x="47" y="351.3" width="7.45" height="0.7" fill="#51545b"/>
<line x1="50.5" y1="351.3" x2="50.5" y2="347.75" stroke="#222" stroke-width="0.9"/>
<line x1="49.43" y1="347.5" x2="52.02" y2="347.5" stroke="#222" stroke-width="0.9"/>
<rect x="54.45" y="381.1" width="7.45" height="106.9" fill="#a23645"/>
<rect x="54.45" y="381.1" width="7.45" height="0.7" fill="#7e2a35"/>
<line x1="58.5" y1="381.1" x2="58.5" y2="377.82" stroke="#222" stroke-width="0.9"/>
<line x1="56.88" y1="377.5" x2="59.48" y2="377.5" stroke="#222" stroke-width="0.9"/>
<rect x="61.9" y="388.76" width="7.45" height="99.24" fill="#b87466"/>
<rect x="61.9" y="388.76" width="7.45" height="0.7" fill="#8f5a4f"/>
<line x1="65.5" y1="388.76" x2="65.5" y2="385.48" stroke="#222" stroke-width="0.9"/>
<line x1="64.33" y1="385.5" x2="66.92" y2="385.5" stroke="#222" stroke-width="0.9"/>
<rect x="69.35" y="407.35" width="7.45" height="80.65" fill="#d29e8c"/>
<rect x="69.35" y="407.35" width="7.45" height="0.7" fill="#a37b6d"/>
<line x1="73.5" y1="407.35" x2="73.5" y2="403.25" stroke="#222" stroke-width="0.9"/>
<line x1="71.77" y1="403.5" x2="74.37" y2="403.5" stroke="#222" stroke-width="0.9"/>
<rect x="86" y="351.3" width="7.45" height="136.7" fill="#686c75"/>
<rect x="86" y="351.3" width="7.45" height="0.7" fill="#51545b"/>
<line x1="89.5" y1="351.3" x2="89.5" y2="350.75" stroke="#222" stroke-width="0.9"/>
<line x1="88.42" y1="350.5" x2="91.02" y2="350.5" stroke="#222" stroke-width="0.9"/>
<rect x="93.45" y="403.25" width="7.45" height="84.75" fill="#a23645"/>
<rect x="93.45" y="403.25" width="7.45" height="0.7" fill="#7e2a35"/>
<line x1="97.5" y1="403.25" x2="97.5" y2="401.2" stroke="#222" stroke-width="0.9"/>
<line x1="95.88" y1="401.5" x2="98.47" y2="401.5" stroke="#222" stroke-width="0.9"/>
<rect x="100.9" y="413.23" width="7.45" height="74.77" fill="#b87466"/>
<rect x="100.9" y="413.23" width="7.45" height="0.7" fill="#8f5a4f"/>
<line x1="104.5" y1="413.23" x2="104.5" y2="412.54" stroke="#222" stroke-width="0.9"/>
<line x1="103.33" y1="412.5" x2="105.92" y2="412.5" stroke="#222" stroke-width="0.9"/>
<rect x="108.35" y="411.45" width="7.45" height="76.55" fill="#d29e8c"/>
<rect x="108.35" y="411.45" width="7.45" height="0.7" fill="#a37b6d"/>
<line x1="112.5" y1="411.45" x2="112.5" y2="410.35" stroke="#222" stroke-width="0.9"/>
<line x1="110.77" y1="410.5" x2="113.37" y2="410.5" stroke="#222" stroke-width="0.9"/>
<rect x="128.3" y="351.3" width="7.45" height="136.7" fill="#686c75"/>
<rect x="128.3" y="351.3" width="7.45" height="0.7" fill="#51545b"/>
<line x1="132.5" y1="351.3" x2="132.5" y2="350.21" stroke="#222" stroke-width="0.9"/>
<line x1="130.72" y1="350.5" x2="133.33" y2="350.5" stroke="#222" stroke-width="0.9"/>
<rect x="135.75" y="337.63" width="7.45" height="150.37" fill="#4c6284"/>
<rect x="135.75" y="337.63" width="7.45" height="0.7" fill="#3b4c66"/>
<line x1="139.5" y1="337.63" x2="139.5" y2="328.06" stroke="#222" stroke-width="0.9"/>
<line x1="138.17" y1="328.5" x2="140.78" y2="328.5" stroke="#222" stroke-width="0.9"/>
<rect x="143.2" y="340.09" width="7.45" height="147.91" fill="#717b9d"/>
<rect x="143.2" y="340.09" width="7.45" height="0.7" fill="#585f7a"/>
<line x1="146.5" y1="340.09" x2="146.5" y2="333.94" stroke="#222" stroke-width="0.9"/>
<line x1="145.62" y1="333.5" x2="148.23" y2="333.5" stroke="#222" stroke-width="0.9"/>
<rect x="150.65" y="345.83" width="7.45" height="142.17" fill="#9ca1bf"/>
<rect x="150.65" y="345.83" width="7.45" height="0.7" fill="#797d94"/>
<line x1="154.5" y1="345.83" x2="154.5" y2="343.78" stroke="#222" stroke-width="0.9"/>
<line x1="153.07" y1="343.5" x2="155.68" y2="343.5" stroke="#222" stroke-width="0.9"/>
<rect x="167.3" y="351.3" width="7.45" height="136.7" fill="#686c75"/>
<rect x="167.3" y="351.3" width="7.45" height="0.7" fill="#51545b"/>
<line x1="171.5" y1="351.3" x2="171.5" y2="350.75" stroke="#222" stroke-width="0.9"/>
<line x1="169.72" y1="350.5" x2="172.33" y2="350.5" stroke="#222" stroke-width="0.9"/>
<rect x="174.75" y="395.86" width="7.45" height="92.14" fill="#4c6284"/>
<rect x="174.75" y="395.86" width="7.45" height="0.7" fill="#3b4c66"/>
<line x1="178.5" y1="395.86" x2="178.5" y2="394.77" stroke="#222" stroke-width="0.9"/>
<line x1="177.17" y1="394.5" x2="179.78" y2="394.5" stroke="#222" stroke-width="0.9"/>
<rect x="182.2" y="401.06" width="7.45" height="86.94" fill="#717b9d"/>
<rect x="182.2" y="401.06" width="7.45" height="0.7" fill="#585f7a"/>
<line x1="185.5" y1="401.06" x2="185.5" y2="400.38" stroke="#222" stroke-width="0.9"/>
<line x1="184.62" y1="400.5" x2="187.23" y2="400.5" stroke="#222" stroke-width="0.9"/>
<rect x="189.65" y="402.97" width="7.45" height="85.03" fill="#9ca1bf"/>
<rect x="189.65" y="402.97" width="7.45" height="0.7" fill="#797d94"/>
<line x1="193.5" y1="402.97" x2="193.5" y2="401.88" stroke="#222" stroke-width="0.9"/>
<line x1="192.07" y1="401.5" x2="194.68" y2="401.5" stroke="#222" stroke-width="0.9"/>
<text x="62.3" y="501.2" font-size="7" text-anchor="middle" textLength="11.98" lengthAdjust="spacingAndGlyphs">DEL</text>
<text x="100.3" y="499.3" font-size="7" text-anchor="middle" textLength="21.57" lengthAdjust="spacingAndGlyphs">Karpas-</text>
<text x="100.3" y="507.9" font-size="7" text-anchor="middle" textLength="10.28" lengthAdjust="spacingAndGlyphs">299</text>
<text x="143.4" y="501.2" font-size="7" text-anchor="middle" textLength="11.98" lengthAdjust="spacingAndGlyphs">DEL</text>
<text x="181.9" y="499.3" font-size="7" text-anchor="middle" textLength="21.57" lengthAdjust="spacingAndGlyphs">Karpas-</text>
<text x="181.9" y="507.9" font-size="7" text-anchor="middle" textLength="10.28" lengthAdjust="spacingAndGlyphs">299</text>
<text x="18" y="404.2" font-size="9" text-anchor="middle" textLength="63" lengthAdjust="spacingAndGlyphs" transform="rotate(-90 18 404.2)">Relative IRF4 MFI</text>
<text x="228.4" y="336.4" font-size="7" text-anchor="middle" textLength="31.5" lengthAdjust="spacingAndGlyphs">PD0325901</text>
<text x="228.4" y="344.3" font-size="7" text-anchor="middle" textLength="41.3" lengthAdjust="spacingAndGlyphs">(MEK inhibitor)</text>
<text x="228.4" y="352.2" font-size="7" text-anchor="middle" textLength="12.5" lengthAdjust="spacingAndGlyphs">(µM)</text>
<line x1="206.2" y1="358.5" x2="250.9" y2="358.5" stroke="#333" stroke-width="1"/>
<rect x="219.35" y="361.35" width="8.2" height="7.9" fill="#686c75" stroke="#55585f" stroke-width="0.5"/>
<text x="231.5" y="367.7" font-size="7">-</text>
<rect x="219.35" y="372.25" width="8.2" height="7.9" fill="#a23645" stroke="#842c38" stroke-width="0.5"/>
<text x="231.5" y="378.6" font-size="7" textLength="8.56" lengthAdjust="spacingAndGlyphs">0.5</text>
<rect x="219.35" y="382.85" width="8.2" height="7.9" fill="#b87466" stroke="#965f53" stroke-width="0.5"/>
<text x="231.5" y="389.2" font-size="7">1</text>
<rect x="219.35" y="393.55" width="8.2" height="7.9" fill="#d29e8c" stroke="#ac8172" stroke-width="0.5"/>
<text x="231.5" y="399.9" font-size="7">2</text>
<text x="228.4" y="411.9" font-size="7" text-anchor="middle" textLength="21" lengthAdjust="spacingAndGlyphs">BEZ235</text>
<text x="228.4" y="420" font-size="7" text-anchor="middle" textLength="33" lengthAdjust="spacingAndGlyphs">(PI3K/mTOR</text>
<text x="228.4" y="427.7" font-size="7" text-anchor="middle" textLength="25" lengthAdjust="spacingAndGlyphs">inhibitor)</text>
<text x="228.4" y="436.2" font-size="7" text-anchor="middle" textLength="8.56" lengthAdjust="spacingAndGlyphs">nM</text>
<line x1="206.2" y1="441.5" x2="250.9" y2="441.5" stroke="#333" stroke-width="1"/>
<rect x="219.35" y="444.55" width="8.2" height="7.9" fill="#686c75" stroke="#55585f" stroke-width="0.5"/>
<text x="231.5" y="450.9" font-size="7">-</text>
<rect x="219.35" y="455.55" width="8.2" height="7.9" fill="#4c6284" stroke="#3e506c" stroke-width="0.5"/>
<text x="231.5" y="461.9" font-size="7" textLength="6.85" lengthAdjust="spacingAndGlyphs">10</text>
<rect x="219.35" y="466.25" width="8.2" height="7.9" fill="#717b9d" stroke="#5c6480" stroke-width="0.5"/>
<text x="231.5" y="472.6" font-size="7" textLength="6.85" lengthAdjust="spacingAndGlyphs">20</text>
<rect x="219.35" y="477.05" width="8.2" height="7.9" fill="#9ca1bf" stroke="#7f849c" stroke-width="0.5"/>
<text x="231.5" y="483.4" font-size="7" textLength="6.85" lengthAdjust="spacingAndGlyphs">40</text>
<line x1="298.5" y1="321.3" x2="298.5" y2="488.1" stroke="#1e1e1e" stroke-width="1"/>
<line x1="295.3" y1="487.5" x2="298.1" y2="487.5" stroke="#1e1e1e" stroke-width="1"/>
<text x="291.6" y="490" font-size="7" text-anchor="end">0</text>
<line x1="295.3" y1="460.5" x2="298.1" y2="460.5" stroke="#1e1e1e" stroke-width="1"/>
<text x="291.6" y="462.74" font-size="7" text-anchor="end" textLength="6.85" lengthAdjust="spacingAndGlyphs">20</text>
<line x1="295.3" y1="433.5" x2="298.1" y2="433.5" stroke="#1e1e1e" stroke-width="1"/>
<text x="291.6" y="435.48" font-size="7" text-anchor="end" textLength="6.85" lengthAdjust="spacingAndGlyphs">40</text>
<line x1="295.3" y1="405.5" x2="298.1" y2="405.5" stroke="#1e1e1e" stroke-width="1"/>
<text x="291.6" y="408.22" font-size="7" text-anchor="end" textLength="6.85" lengthAdjust="spacingAndGlyphs">60</text>
<line x1="295.3" y1="378.5" x2="298.1" y2="378.5" stroke="#1e1e1e" stroke-width="1"/>
<text x="291.6" y="380.96" font-size="7" text-anchor="end" textLength="6.85" lengthAdjust="spacingAndGlyphs">80</text>
<line x1="295.3" y1="351.5" x2="298.1" y2="351.5" stroke="#1e1e1e" stroke-width="1"/>
<text x="291.6" y="353.7" font-size="7" text-anchor="end" textLength="10.28" lengthAdjust="spacingAndGlyphs">100</text>
<line x1="295.3" y1="324.5" x2="298.1" y2="324.5" stroke="#1e1e1e" stroke-width="1"/>
<text x="291.6" y="326.44" font-size="7" text-anchor="end" textLength="10.28" lengthAdjust="spacingAndGlyphs">120</text>
<line x1="297.6" y1="487.5" x2="363.8" y2="487.5" stroke="#1e1e1e" stroke-width="1.1"/>
<line x1="298.5" y1="487.6" x2="298.5" y2="490.8" stroke="#1e1e1e" stroke-width="1"/>
<line x1="329.5" y1="487.6" x2="329.5" y2="490.8" stroke="#1e1e1e" stroke-width="1"/>
<line x1="360.5" y1="487.6" x2="360.5" y2="490.8" stroke="#1e1e1e" stroke-width="1"/>
<rect x="303.3" y="351.3" width="11.1" height="136.3" fill="#686c75"/>
<rect x="303.3" y="351.3" width="11.1" height="0.7" fill="#51545b"/>
<line x1="308.5" y1="351.3" x2="308.5" y2="342.71" stroke="#222" stroke-width="0.9"/>
<line x1="307.55" y1="342.5" x2="310.15" y2="342.5" stroke="#222" stroke-width="0.9"/>
<rect x="314.4" y="392.87" width="11.2" height="94.73" fill="#a23645"/>
<rect x="314.4" y="392.87" width="11.2" height="0.7" fill="#7e2a35"/>
<line x1="320.5" y1="392.87" x2="320.5" y2="387.42" stroke="#222" stroke-width="0.9"/>
<line x1="318.7" y1="387.5" x2="321.3" y2="387.5" stroke="#222" stroke-width="0.9"/>
<rect x="334" y="351.3" width="11.1" height="136.3" fill="#686c75"/>
<rect x="334" y="351.3" width="11.1" height="0.7" fill="#51545b"/>
<line x1="339.5" y1="351.3" x2="339.5" y2="348.03" stroke="#222" stroke-width="0.9"/>
<line x1="338.25" y1="348.5" x2="340.85" y2="348.5" stroke="#222" stroke-width="0.9"/>
<rect x="345.1" y="390.55" width="11.2" height="97.05" fill="#a23645"/>
<rect x="345.1" y="390.55" width="11.2" height="0.7" fill="#7e2a35"/>
<line x1="350.5" y1="390.55" x2="350.5" y2="388.24" stroke="#222" stroke-width="0.9"/>
<line x1="349.4" y1="388.5" x2="352" y2="388.5" stroke="#222" stroke-width="0.9"/>
<text x="314.6" y="499.3" font-size="7" text-anchor="middle" textLength="11.98" lengthAdjust="spacingAndGlyphs">DEL</text>
<text x="344.8" y="499.3" font-size="7" text-anchor="middle" textLength="21.57" lengthAdjust="spacingAndGlyphs">Karpas-</text>
<text x="344.8" y="507.2" font-size="7" text-anchor="middle" textLength="10.28" lengthAdjust="spacingAndGlyphs">299</text>
<text x="275" y="404.7" font-size="9" text-anchor="middle" textLength="117" lengthAdjust="spacingAndGlyphs" transform="rotate(-90 275 404.7)">Relative IRF4 mRNA expression</text>
<text x="394" y="408.1" font-size="7" text-anchor="middle" textLength="37.7" lengthAdjust="spacingAndGlyphs">MEK inhibitor</text>
<line x1="367" y1="412.5" x2="419.9" y2="412.5" stroke="#333" stroke-width="1"/>
<rect x="371.95" y="416.55" width="8.3" height="7.9" fill="#686c75" stroke="#55585f" stroke-width="0.5"/>
<text x="385.2" y="423.1" font-size="7" textLength="16.5" lengthAdjust="spacingAndGlyphs">DMSO</text>
<rect x="371.95" y="430.55" width="8.3" height="7.9" fill="#a23645" stroke="#842c38" stroke-width="0.5"/>
<text x="385.2" y="436.6" font-size="7" textLength="31.5" lengthAdjust="spacingAndGlyphs">PD0325901</text>
<line x1="40.5" y1="533" x2="40.5" y2="700.9" stroke="#1e1e1e" stroke-width="1"/>
<line x1="37.6" y1="700.5" x2="40.4" y2="700.5" stroke="#1e1e1e" stroke-width="1"/>
<text x="34" y="702.8" font-size="7" text-anchor="end">0</text>
<line x1="37.6" y1="673.5" x2="40.4" y2="673.5" stroke="#1e1e1e" stroke-width="1"/>
<text x="34" y="675.44" font-size="7" text-anchor="end" textLength="6.85" lengthAdjust="spacingAndGlyphs">20</text>
<line x1="37.6" y1="645.5" x2="40.4" y2="645.5" stroke="#1e1e1e" stroke-width="1"/>
<text x="34" y="648.08" font-size="7" text-anchor="end" textLength="6.85" lengthAdjust="spacingAndGlyphs">40</text>
<line x1="37.6" y1="618.5" x2="40.4" y2="618.5" stroke="#1e1e1e" stroke-width="1"/>
<text x="34" y="620.72" font-size="7" text-anchor="end" textLength="6.85" lengthAdjust="spacingAndGlyphs">60</text>
<line x1="37.6" y1="590.5" x2="40.4" y2="590.5" stroke="#1e1e1e" stroke-width="1"/>
<text x="34" y="593.36" font-size="7" text-anchor="end" textLength="6.85" lengthAdjust="spacingAndGlyphs">80</text>
<line x1="37.6" y1="563.5" x2="40.4" y2="563.5" stroke="#1e1e1e" stroke-width="1"/>
<text x="34" y="566" font-size="7" text-anchor="end" textLength="10.28" lengthAdjust="spacingAndGlyphs">100</text>
<line x1="37.6" y1="536.5" x2="40.4" y2="536.5" stroke="#1e1e1e" stroke-width="1"/>
<text x="34" y="538.64" font-size="7" text-anchor="end" textLength="10.28" lengthAdjust="spacingAndGlyphs">120</text>
<line x1="40.1" y1="700.5" x2="194.8" y2="700.5" stroke="#1e1e1e" stroke-width="1.1"/>
<line x1="40.5" y1="700.4" x2="40.5" y2="703.6" stroke="#1e1e1e" stroke-width="1"/>
<line x1="77.5" y1="700.4" x2="77.5" y2="703.6" stroke="#1e1e1e" stroke-width="1"/>
<line x1="115.5" y1="700.4" x2="115.5" y2="703.6" stroke="#1e1e1e" stroke-width="1"/>
<line x1="155.5" y1="700.4" x2="155.5" y2="703.6" stroke="#1e1e1e" stroke-width="1"/>
<line x1="194.5" y1="700.4" x2="194.5" y2="703.6" stroke="#1e1e1e" stroke-width="1"/>
<rect x="45.1" y="563.6" width="7.15" height="136.8" fill="#686c75"/>
<rect x="45.1" y="563.6" width="7.15" height="0.7" fill="#51545b"/>
<line x1="48.5" y1="563.6" x2="48.5" y2="562.78" stroke="#222" stroke-width="0.9"/>
<line x1="47.38" y1="562.5" x2="49.98" y2="562.5" stroke="#222" stroke-width="0.9"/>
<rect x="52.25" y="607.65" width="7.15" height="92.75" fill="#a23645"/>
<rect x="52.25" y="607.65" width="7.15" height="0.7" fill="#7e2a35"/>
<line x1="55.5" y1="607.65" x2="55.5" y2="606.83" stroke="#222" stroke-width="0.9"/>
<line x1="54.53" y1="606.5" x2="57.12" y2="606.5" stroke="#222" stroke-width="0.9"/>
<rect x="59.4" y="605.6" width="7.15" height="94.8" fill="#b87466"/>
<rect x="59.4" y="605.6" width="7.15" height="0.7" fill="#8f5a4f"/>
<line x1="62.5" y1="605.6" x2="62.5" y2="604.78" stroke="#222" stroke-width="0.9"/>
<line x1="61.68" y1="604.5" x2="64.28" y2="604.5" stroke="#222" stroke-width="0.9"/>
<rect x="66.55" y="606.01" width="7.15" height="94.39" fill="#d29e8c"/>
<rect x="66.55" y="606.01" width="7.15" height="0.7" fill="#a37b6d"/>
<line x1="70.5" y1="606.01" x2="70.5" y2="605.32" stroke="#222" stroke-width="0.9"/>
<line x1="68.83" y1="605.5" x2="71.43" y2="605.5" stroke="#222" stroke-width="0.9"/>
<rect x="80.5" y="563.6" width="7.15" height="136.8" fill="#686c75"/>
<rect x="80.5" y="563.6" width="7.15" height="0.7" fill="#51545b"/>
<line x1="84.5" y1="563.6" x2="84.5" y2="562.78" stroke="#222" stroke-width="0.9"/>
<line x1="82.78" y1="562.5" x2="85.38" y2="562.5" stroke="#222" stroke-width="0.9"/>
<rect x="87.65" y="589.18" width="7.15" height="111.22" fill="#4c6284"/>
<rect x="87.65" y="589.18" width="7.15" height="0.7" fill="#3b4c66"/>
<line x1="91.5" y1="589.18" x2="91.5" y2="588.5" stroke="#222" stroke-width="0.9"/>
<line x1="89.93" y1="588.5" x2="92.53" y2="588.5" stroke="#222" stroke-width="0.9"/>
<rect x="94.8" y="591.51" width="7.15" height="108.89" fill="#717b9d"/>
<rect x="94.8" y="591.51" width="7.15" height="0.7" fill="#585f7a"/>
<line x1="98.5" y1="591.51" x2="98.5" y2="590.82" stroke="#222" stroke-width="0.9"/>
<line x1="97.08" y1="590.5" x2="99.67" y2="590.5" stroke="#222" stroke-width="0.9"/>
<rect x="101.95" y="588.22" width="7.15" height="112.18" fill="#9ca1bf"/>
<rect x="101.95" y="588.22" width="7.15" height="0.7" fill="#797d94"/>
<line x1="105.5" y1="588.22" x2="105.5" y2="587.4" stroke="#222" stroke-width="0.9"/>
<line x1="104.23" y1="587.5" x2="106.83" y2="587.5" stroke="#222" stroke-width="0.9"/>
<rect x="123" y="563.6" width="7.15" height="136.8" fill="#686c75"/>
<rect x="123" y="563.6" width="7.15" height="0.7" fill="#51545b"/>
<line x1="126.5" y1="563.6" x2="126.5" y2="562.78" stroke="#222" stroke-width="0.9"/>
<line x1="125.28" y1="562.5" x2="127.88" y2="562.5" stroke="#222" stroke-width="0.9"/>
<rect x="130.15" y="626.25" width="7.15" height="74.15" fill="#a23645"/>
<rect x="130.15" y="626.25" width="7.15" height="0.7" fill="#7e2a35"/>
<line x1="133.5" y1="626.25" x2="133.5" y2="625.57" stroke="#222" stroke-width="0.9"/>
<line x1="132.42" y1="625.5" x2="135.03" y2="625.5" stroke="#222" stroke-width="0.9"/>
<rect x="137.3" y="627.49" width="7.15" height="72.91" fill="#b87466"/>
<rect x="137.3" y="627.49" width="7.15" height="0.7" fill="#8f5a4f"/>
<line x1="140.5" y1="627.49" x2="140.5" y2="626.94" stroke="#222" stroke-width="0.9"/>
<line x1="139.57" y1="626.5" x2="142.18" y2="626.5" stroke="#222" stroke-width="0.9"/>
<rect x="144.45" y="627.62" width="7.15" height="72.78" fill="#d29e8c"/>
<rect x="144.45" y="627.62" width="7.15" height="0.7" fill="#a37b6d"/>
<line x1="148.5" y1="627.62" x2="148.5" y2="627.08" stroke="#222" stroke-width="0.9"/>
<line x1="146.72" y1="627.5" x2="149.32" y2="627.5" stroke="#222" stroke-width="0.9"/>
<rect x="159.2" y="563.6" width="7.15" height="136.8" fill="#686c75"/>
<rect x="159.2" y="563.6" width="7.15" height="0.7" fill="#51545b"/>
<line x1="162.5" y1="563.6" x2="162.5" y2="563.19" stroke="#222" stroke-width="0.9"/>
<line x1="161.47" y1="563.5" x2="164.07" y2="563.5" stroke="#222" stroke-width="0.9"/>
<rect x="166.35" y="597.39" width="7.15" height="103.01" fill="#4c6284"/>
<rect x="166.35" y="597.39" width="7.15" height="0.7" fill="#3b4c66"/>
<line x1="169.5" y1="597.39" x2="169.5" y2="596.84" stroke="#222" stroke-width="0.9"/>
<line x1="168.62" y1="596.5" x2="171.22" y2="596.5" stroke="#222" stroke-width="0.9"/>
<rect x="173.5" y="597.94" width="7.15" height="102.46" fill="#717b9d"/>
<rect x="173.5" y="597.94" width="7.15" height="0.7" fill="#585f7a"/>
<line x1="177.5" y1="597.94" x2="177.5" y2="597.39" stroke="#222" stroke-width="0.9"/>
<line x1="175.77" y1="597.5" x2="178.38" y2="597.5" stroke="#222" stroke-width="0.9"/>
<rect x="180.65" y="595.34" width="7.15" height="105.06" fill="#9ca1bf"/>
<rect x="180.65" y="595.34" width="7.15" height="0.7" fill="#797d94"/>
<line x1="184.5" y1="595.34" x2="184.5" y2="594.65" stroke="#222" stroke-width="0.9"/>
<line x1="182.92" y1="594.5" x2="185.52" y2="594.5" stroke="#222" stroke-width="0.9"/>
<path d="M 63.5 597.5 V 548.5 H 98.5 V 579.5" stroke="#4a4a4a" stroke-width="1" fill="none"/>
<line x1="55.8" y1="597.5" x2="70.3" y2="597.5" stroke="#4a4a4a" stroke-width="1"/>
<line x1="91.5" y1="579.5" x2="106.2" y2="579.5" stroke="#4a4a4a" stroke-width="1"/>
<text x="80.8" y="547.6" font-size="7" text-anchor="middle" textLength="4.79" lengthAdjust="spacingAndGlyphs">**</text>
<path d="M 140.5 620.5 V 560.5 H 177.5 V 591.5" stroke="#4a4a4a" stroke-width="1" fill="none"/>
<line x1="133.5" y1="620.5" x2="147.8" y2="620.5" stroke="#4a4a4a" stroke-width="1"/>
<line x1="169.2" y1="591.5" x2="183.8" y2="591.5" stroke="#4a4a4a" stroke-width="1"/>
<text x="159.3" y="559.6" font-size="7" text-anchor="middle" textLength="4.79" lengthAdjust="spacingAndGlyphs">**</text>
<text x="19.3" y="713.4" font-size="7" text-anchor="middle" textLength="19" lengthAdjust="spacingAndGlyphs">rescue</text>
<text x="22" y="722" font-size="7" text-anchor="middle" textLength="28" lengthAdjust="spacingAndGlyphs">construct:</text>
<text x="58.7" y="716.5" font-size="7" text-anchor="middle" textLength="14.5" lengthAdjust="spacingAndGlyphs">CTRL</text>
<text x="95.6" y="716.5" font-size="7" text-anchor="middle" textLength="22" lengthAdjust="spacingAndGlyphs">IRF4 WT</text>
<text x="136.9" y="716.5" font-size="7" text-anchor="middle" textLength="14.5" lengthAdjust="spacingAndGlyphs">CTRL</text>
<text x="173.1" y="716.5" font-size="7" text-anchor="middle" textLength="22" lengthAdjust="spacingAndGlyphs">IRF4 WT</text>
<path d="M 44.5 719.5 V 722.5 H 110.5 V 719.5" stroke="#333" stroke-width="1" fill="none"/>
<path d="M 123.5 719.5 V 722.5 H 190.5 V 719.5" stroke="#333" stroke-width="1" fill="none"/>
<text x="77.4" y="732.5" font-size="7" text-anchor="middle" textLength="27" lengthAdjust="spacingAndGlyphs">24 Hrs Rx</text>
<text x="157" y="732.5" font-size="7" text-anchor="middle" textLength="27" lengthAdjust="spacingAndGlyphs">48 Hrs Rx</text>
<text x="18.6" y="617.3" font-size="9" text-anchor="middle" textLength="69" lengthAdjust="spacingAndGlyphs" transform="rotate(-90 18.6 617.3)">Relative PDL-1 MFI</text>
<text x="213.8" y="582.2" font-size="7" text-anchor="middle" textLength="32" lengthAdjust="spacingAndGlyphs">PD0325901</text>
<text x="214.4" y="590.8" font-size="7" text-anchor="middle" textLength="41.5" lengthAdjust="spacingAndGlyphs">(MEK inhibitor)</text>
<text x="214.4" y="598.4" font-size="7" text-anchor="middle" textLength="12.5" lengthAdjust="spacingAndGlyphs">(µM)</text>
<line x1="195.1" y1="601.5" x2="233.4" y2="601.5" stroke="#333" stroke-width="1"/>
<rect x="202.35" y="604.25" width="8" height="8.1" fill="#686c75" stroke="#55585f" stroke-width="0.5"/>
<rect x="212.75" y="604.25" width="8" height="8.1" fill="#686c75" stroke="#55585f" stroke-width="0.5"/>
<text x="224.8" y="610.6" font-size="7">-</text>
<rect x="202.35" y="615.25" width="8" height="8.1" fill="#a23645" stroke="#842c38" stroke-width="0.5"/>
<rect x="212.75" y="615.25" width="8" height="8.1" fill="#4c6284" stroke="#3e506c" stroke-width="0.5"/>
<text x="224.8" y="621.6" font-size="7" textLength="8.56" lengthAdjust="spacingAndGlyphs">0.5</text>
<rect x="202.35" y="626.25" width="8" height="8.1" fill="#b87466" stroke="#965f53" stroke-width="0.5"/>
<rect x="212.75" y="626.25" width="8" height="8.1" fill="#717b9d" stroke="#5c6480" stroke-width="0.5"/>
<text x="224.8" y="632.6" font-size="7">1</text>
<rect x="202.35" y="636.95" width="8" height="8.1" fill="#d29e8c" stroke="#ac8172" stroke-width="0.5"/>
<rect x="212.75" y="636.95" width="8" height="8.1" fill="#9ca1bf" stroke="#7f849c" stroke-width="0.5"/>
<text x="224.8" y="643.3" font-size="7">2</text>
<line x1="283.5" y1="550" x2="283.5" y2="701.8" stroke="#1e1e1e" stroke-width="1"/>
<line x1="281" y1="701.5" x2="283.8" y2="701.5" stroke="#1e1e1e" stroke-width="1"/>
<text x="277.6" y="703.7" font-size="7" text-anchor="end">0</text>
<line x1="281" y1="676.5" x2="283.8" y2="676.5" stroke="#1e1e1e" stroke-width="1"/>
<text x="277.6" y="678.9" font-size="7" text-anchor="end" textLength="6.85" lengthAdjust="spacingAndGlyphs">20</text>
<line x1="281" y1="651.5" x2="283.8" y2="651.5" stroke="#1e1e1e" stroke-width="1"/>
<text x="277.6" y="654.1" font-size="7" text-anchor="end" textLength="6.85" lengthAdjust="spacingAndGlyphs">40</text>
<line x1="281" y1="626.5" x2="283.8" y2="626.5" stroke="#1e1e1e" stroke-width="1"/>
<text x="277.6" y="629.3" font-size="7" text-anchor="end" textLength="6.85" lengthAdjust="spacingAndGlyphs">60</text>
<line x1="281" y1="602.5" x2="283.8" y2="602.5" stroke="#1e1e1e" stroke-width="1"/>
<text x="277.6" y="604.5" font-size="7" text-anchor="end" textLength="6.85" lengthAdjust="spacingAndGlyphs">80</text>
<line x1="281" y1="577.5" x2="283.8" y2="577.5" stroke="#1e1e1e" stroke-width="1"/>
<text x="277.6" y="579.7" font-size="7" text-anchor="end" textLength="10.28" lengthAdjust="spacingAndGlyphs">100</text>
<line x1="281" y1="552.5" x2="283.8" y2="552.5" stroke="#1e1e1e" stroke-width="1"/>
<text x="277.6" y="554.9" font-size="7" text-anchor="end" textLength="10.28" lengthAdjust="spacingAndGlyphs">120</text>
<line x1="283.3" y1="701.5" x2="330.7" y2="701.5" stroke="#1e1e1e" stroke-width="1.1"/>
<line x1="283.5" y1="701.3" x2="283.5" y2="704.5" stroke="#1e1e1e" stroke-width="1"/>
<line x1="299.5" y1="701.3" x2="299.5" y2="704.5" stroke="#1e1e1e" stroke-width="1"/>
<line x1="313.5" y1="701.3" x2="313.5" y2="704.5" stroke="#1e1e1e" stroke-width="1"/>
<line x1="327.5" y1="701.3" x2="327.5" y2="704.5" stroke="#1e1e1e" stroke-width="1"/>
<rect x="289.2" y="578.42" width="7.3" height="122.88" fill="#686c75"/>
<rect x="289.2" y="578.42" width="7.3" height="0.7" fill="#51545b"/>
<line x1="292.5" y1="578.42" x2="292.5" y2="576.56" stroke="#222" stroke-width="0.9"/>
<line x1="291.55" y1="576.5" x2="294.15" y2="576.5" stroke="#222" stroke-width="0.9"/>
<rect x="303" y="626.9" width="7.3" height="74.4" fill="#a23645"/>
<rect x="303" y="626.9" width="7.3" height="0.7" fill="#7e2a35"/>
<line x1="306.5" y1="626.9" x2="306.5" y2="626.4" stroke="#222" stroke-width="0.9"/>
<line x1="305.35" y1="626.5" x2="307.95" y2="626.5" stroke="#222" stroke-width="0.9"/>
<rect x="316.5" y="648.35" width="7.3" height="52.95" fill="#a23645"/>
<rect x="316.5" y="648.35" width="7.3" height="0.7" fill="#7e2a35"/>
<line x1="320.5" y1="648.35" x2="320.5" y2="646.49" stroke="#222" stroke-width="0.9"/>
<line x1="318.85" y1="646.5" x2="321.45" y2="646.5" stroke="#222" stroke-width="0.9"/>
<text x="263.8" y="714.6" font-size="6.2" textLength="20.5" lengthAdjust="spacingAndGlyphs">sgRNA:</text>
<text x="294.9" y="708.2" font-size="6.6" text-anchor="end" textLength="14" lengthAdjust="spacingAndGlyphs" transform="rotate(-90 294.9 708.2)" style="stroke-width:0.08px">CTRL</text>
<text x="308.7" y="708.2" font-size="6.6" text-anchor="end" textLength="24" lengthAdjust="spacingAndGlyphs" transform="rotate(-90 308.7 708.2)" style="stroke-width:0.08px">MTOR #1</text>
<text x="322.6" y="708.2" font-size="6.6" text-anchor="end" textLength="24" lengthAdjust="spacingAndGlyphs" transform="rotate(-90 322.6 708.2)" style="stroke-width:0.08px">MTOR #2</text>
<text x="261" y="625.5" font-size="9" text-anchor="middle" textLength="70" lengthAdjust="spacingAndGlyphs" transform="rotate(-90 261 625.5)">Relative PD-L1 MFI</text>
<line x1="363.5" y1="551" x2="363.5" y2="701.8" stroke="#1e1e1e" stroke-width="1"/>
<line x1="360.3" y1="701.5" x2="363.1" y2="701.5" stroke="#1e1e1e" stroke-width="1"/>
<text x="356.9" y="703.7" font-size="7" text-anchor="end">0</text>
<line x1="360.3" y1="676.5" x2="363.1" y2="676.5" stroke="#1e1e1e" stroke-width="1"/>
<text x="356.9" y="679.1" font-size="7" text-anchor="end" textLength="6.85" lengthAdjust="spacingAndGlyphs">20</text>
<line x1="360.3" y1="652.5" x2="363.1" y2="652.5" stroke="#1e1e1e" stroke-width="1"/>
<text x="356.9" y="654.5" font-size="7" text-anchor="end" textLength="6.85" lengthAdjust="spacingAndGlyphs">40</text>
<line x1="360.3" y1="627.5" x2="363.1" y2="627.5" stroke="#1e1e1e" stroke-width="1"/>
<text x="356.9" y="629.9" font-size="7" text-anchor="end" textLength="6.85" lengthAdjust="spacingAndGlyphs">60</text>
<line x1="360.3" y1="602.5" x2="363.1" y2="602.5" stroke="#1e1e1e" stroke-width="1"/>
<text x="356.9" y="605.3" font-size="7" text-anchor="end" textLength="6.85" lengthAdjust="spacingAndGlyphs">80</text>
<line x1="360.3" y1="578.5" x2="363.1" y2="578.5" stroke="#1e1e1e" stroke-width="1"/>
<text x="356.9" y="580.7" font-size="7" text-anchor="end" textLength="10.28" lengthAdjust="spacingAndGlyphs">100</text>
<line x1="360.3" y1="553.5" x2="363.1" y2="553.5" stroke="#1e1e1e" stroke-width="1"/>
<text x="356.9" y="556.1" font-size="7" text-anchor="end" textLength="10.28" lengthAdjust="spacingAndGlyphs">120</text>
<line x1="362.6" y1="701.5" x2="410.1" y2="701.5" stroke="#1e1e1e" stroke-width="1.1"/>
<line x1="363.5" y1="701.3" x2="363.5" y2="704.5" stroke="#1e1e1e" stroke-width="1"/>
<line x1="379.5" y1="701.3" x2="379.5" y2="704.5" stroke="#1e1e1e" stroke-width="1"/>
<line x1="393.5" y1="701.3" x2="393.5" y2="704.5" stroke="#1e1e1e" stroke-width="1"/>
<line x1="406.5" y1="701.3" x2="406.5" y2="704.5" stroke="#1e1e1e" stroke-width="1"/>
<rect x="368.5" y="580.76" width="7.3" height="120.54" fill="#686c75"/>
<rect x="368.5" y="580.76" width="7.3" height="0.7" fill="#51545b"/>
<line x1="372.5" y1="580.76" x2="372.5" y2="579.53" stroke="#222" stroke-width="0.9"/>
<line x1="370.85" y1="579.5" x2="373.45" y2="579.5" stroke="#222" stroke-width="0.9"/>
<rect x="382.3" y="605.97" width="7.3" height="95.33" fill="#4c6284"/>
<rect x="382.3" y="605.97" width="7.3" height="0.7" fill="#3b4c66"/>
<line x1="385.5" y1="605.97" x2="385.5" y2="603.51" stroke="#222" stroke-width="0.9"/>
<line x1="384.65" y1="603.5" x2="387.25" y2="603.5" stroke="#222" stroke-width="0.9"/>
<rect x="395.4" y="623.81" width="7.3" height="77.49" fill="#4c6284"/>
<rect x="395.4" y="623.81" width="7.3" height="0.7" fill="#3b4c66"/>
<line x1="399.5" y1="623.81" x2="399.5" y2="621.6" stroke="#222" stroke-width="0.9"/>
<line x1="397.75" y1="621.5" x2="400.35" y2="621.5" stroke="#222" stroke-width="0.9"/>
<text x="343.5" y="714.6" font-size="6.2" textLength="20.5" lengthAdjust="spacingAndGlyphs">sgRNA:</text>
<text x="374.5" y="708.2" font-size="6.6" text-anchor="end" textLength="14" lengthAdjust="spacingAndGlyphs" transform="rotate(-90 374.5 708.2)" style="stroke-width:0.08px">CTRL</text>
<text x="387.8" y="708.2" font-size="6.6" text-anchor="end" textLength="24" lengthAdjust="spacingAndGlyphs" transform="rotate(-90 387.8 708.2)" style="stroke-width:0.08px">MTOR #1</text>
<text x="401.7" y="708.2" font-size="6.6" text-anchor="end" textLength="24" lengthAdjust="spacingAndGlyphs" transform="rotate(-90 401.7 708.2)" style="stroke-width:0.08px">MTOR #2</text>
<text x="340.4" y="625.5" font-size="9" text-anchor="middle" textLength="64" lengthAdjust="spacingAndGlyphs" transform="rotate(-90 340.4 625.5)">Relative IRF4 MFI</text>
<rect x="0" y="0" width="520" height="1" fill="#0a0a0a"/>
<rect x="0" y="0" width="1.6" height="741" fill="#555555"/>
<rect x="518.2" y="0" width="1.8" height="741" fill="#505050"/>
<rect x="0" y="739" width="520" height="2" fill="#505050"/>
</svg>
</body></html>
